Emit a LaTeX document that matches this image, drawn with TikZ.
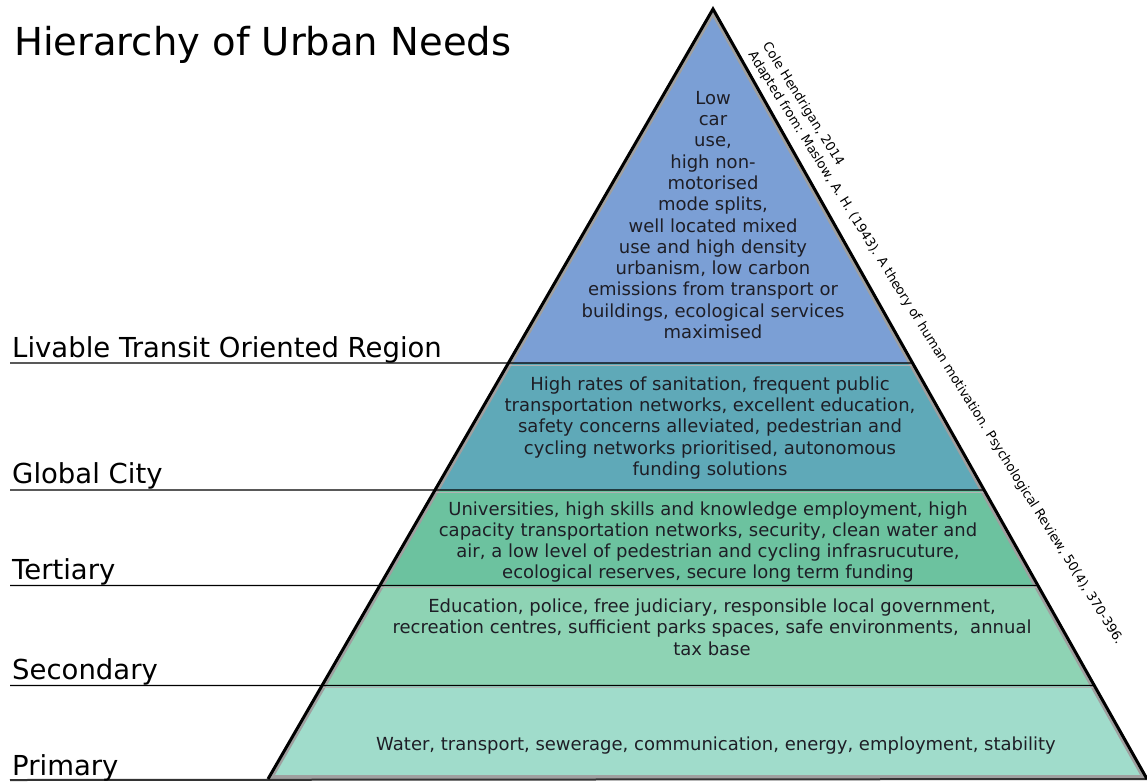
\documentclass[tikz,border=0pt]{standalone}
\usepackage{fontspec}
\setmainfont{DejaVu Sans}
\usetikzlibrary{calc}

\definecolor{lvtop}{HTML}{7B9FD5}
\definecolor{lvglobal}{HTML}{5FA9B8}
\definecolor{lvtert}{HTML}{6CC29F}
\definecolor{lvsec}{HTML}{8ED3B4}
\definecolor{lvprim}{HTML}{A0DCCB}
\definecolor{txtdark}{HTML}{1E1E26}

\begin{document}
\begin{tikzpicture}[x=1pt, y=-1pt,
  layer/.style={align=center, inner sep=0pt, text=txtdark,
                font=\fontsize{18}{21.3}\selectfont},
  tier/.style={anchor=base west, inner sep=0pt, font=\fontsize{27.5}{30}\selectfont},
  cite/.style={anchor=base west, inner sep=0pt, rotate=-58,
               font=\fontsize{13}{15}\selectfont},
  rule/.style={line width=1.4pt},
  edge/.style={line width=3pt, line join=miter}]

  \useasboundingbox (0,0) rectangle (1147,782);

  \coordinate (apex) at (713,9);
  \coordinate (bl)   at (268,779);
  \coordinate (br)   at (1147,779);
  % split points on both slopes, one pair per tier line
  \foreach \n/\yy in {1/363,2/490,3/585.5,4/685.5}{
    \coordinate (l\n) at ($(apex)!{(\yy-9)/770}!(bl)$);
    \coordinate (r\n) at ($(apex)!{(\yy-9)/770}!(br)$);
    \coordinate (m\n) at (10,\yy);
  }
  \coordinate (m5) at (10,780);

  \fill[lvtop]    (apex) -- (r1) -- (l1) -- cycle;
  \fill[lvglobal] (l1) -- (r1) -- (r2) -- (l2) -- cycle;
  \fill[lvtert]   (l2) -- (r2) -- (r3) -- (l3) -- cycle;
  \fill[lvsec]    (l3) -- (r3) -- (r4) -- (l4) -- cycle;
  \fill[lvprim]   (l4) -- (r4) -- (br) -- (bl) -- cycle;

  % soft inner shadow along the outline and under the tier lines
  \begin{scope}
    \clip (apex) -- (br) -- (bl) -- cycle;
    \draw[gray!75, line width=8pt] (apex) -- (br) -- (bl) -- cycle;
    \foreach \n in {1,...,4} \draw[gray!60, line width=1pt] ($(l\n)+(0,2)$) -- ($(r\n)+(0,2)$);
  \end{scope}

  \foreach \n in {1,...,4} \draw[rule] (m\n) -- (r\n);
  \draw[rule, line width=2pt, black!80] (m5) -- (br);
  \draw[edge] (bl) -- (apex) -- (br);

  \node[anchor=base west, inner sep=0pt, font=\fontsize{38.5}{40}\selectfont]
    (title) at (14,55) {Hierarchy of Urban Needs};

  \node[tier] (ltor)    at (12,357) {Livable Transit Oriented Region};
  \node[tier] (global)  at (12,483) {Global City};
  \node[tier] (tert)    at (12,579) {Tertiary};
  \node[tier] (second)  at (12,679) {Secondary};
  \node[tier] (primary) at (12,775) {Primary};

  \node[layer] (needtop) at (713,215) {Low\\car\\use,\\high non-\\motorised\\mode splits,\\well located mixed\\use and high density\\urbanism, low carbon\\emissions from transport or\\buildings, ecological services\\maximised};
  \node[layer] (needglobal) at (710,428) {High rates of sanitation, frequent public\\transportation networks, excellent education,\\safety concerns alleviated, pedestrian and\\cycling networks prioritised, autonomous\\funding solutions};
  \node[layer] (needtert) at (708,542) {Universities, high skills and knowledge employment, high\\capacity transportation networks, security, clean water and\\air, a low level of pedestrian and cycling infrasrucuture,\\ecological reserves, secure long term funding};
  \node[layer] (needsec) at (712,627) {Education, police, free judiciary, responsible local government,\\recreation centres, sufficient parks spaces, safe environments,~ annual\\tax base};
  \node[layer] (needprim) at (716,746) {Water, transport, sewerage, communication, energy, employment, stability};

  % credit lines run down the right slope, drifting slowly away from it
  \coordinate (src) at ($(apex)!0.064!(br)$);
  \node[cite] (source) at ($(src)+(7.2,-3.6)$) {Adapted from: Maslow, A. H. (1943). A theory of human motivation. Psychological Review, 50(4), 370-396.};
  \node[cite] (credit) at ($(src)+(21.5,-12.5)$) {Cole Hendrigan, 2014};
\end{tikzpicture}
\end{document}
